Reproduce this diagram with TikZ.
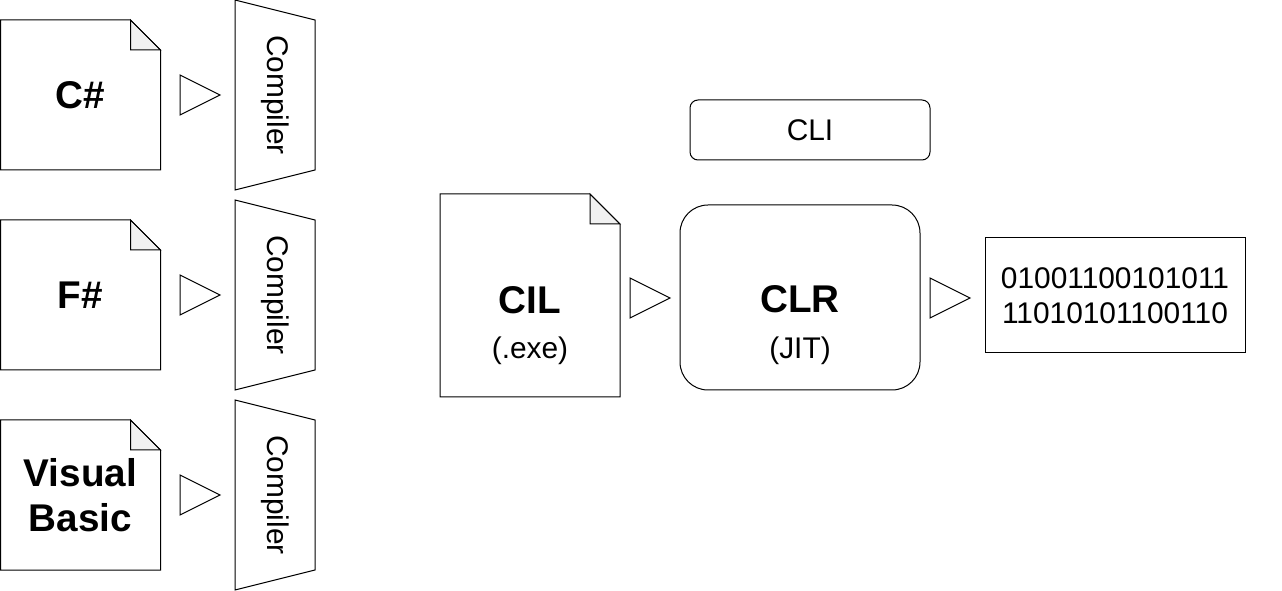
\documentclass[tikz,border=0pt]{standalone}
\usepackage{fontspec}
\setmainfont{Liberation Sans}
\definecolor{foldgray}{HTML}{F1F1F1}
\begin{document}
\begin{tikzpicture}[x=0.75pt,y=-0.75pt,line width=0.75pt,
  box/.style={draw=none,inner sep=0pt,outer sep=0pt,anchor=north west,align=center},
  docbox/.style={box,minimum width=120pt,minimum height=112.5pt},
  compbox/.style={box,minimum width=60pt,minimum height=142.5pt,font=\fontsize{22.4}{26.5}\selectfont},
  tribox/.style={box,minimum width=30pt,minimum height=30pt},
  bigb/.style={inner sep=0pt,font=\fontsize{29}{33.75}\selectfont\bfseries,align=center},
  reg/.style={inner sep=0pt,font=\fontsize{22.4}{26.25}\selectfont,align=center}]
\useasboundingbox (0,0) rectangle (1282,591);

% source documents
\node[docbox,bigb] (cs) at (0.5,20) {C\#};
\node[docbox,bigb] (fs) at (0.5,220) {F\#};
\node[docbox,bigb] (vb) at (0.5,420) {Visual\\Basic};
\node[box,minimum width=135pt,minimum height=152.25pt] (cil) at (440,194) {};

\foreach \n in {cs,fs,vb,cil}{
  \draw[fill=foldgray] ([xshift=-22.5pt]\n.north east) -- ([xshift=-22.5pt,yshift=-22.5pt]\n.north east) -- ([yshift=-22.5pt]\n.north east) -- cycle;
  \draw (\n.north west) -- ([xshift=-22.5pt]\n.north east) -- ([yshift=-22.5pt]\n.north east) -- (\n.south east) -- (\n.south west) -- cycle;
}

% triangles
\node[tribox] (t1) at (180,75) {};
\node[tribox] (t2) at (180,275) {};
\node[tribox] (t3) at (180,475) {};
\node[tribox] (t4) at (630,278) {};
\node[tribox] (t5) at (930,278) {};
\foreach \n in {t1,t2,t3,t4,t5}
  \draw (\n.north west) -- (\n.east) -- (\n.south west) -- cycle;

% compilers
\node[compbox] (c1) at (235,0) {\rotatebox{-90}{Compiler}};
\node[compbox] (c2) at (235,200) {\rotatebox{-90}{Compiler}};
\node[compbox] (c3) at (235,400) {\rotatebox{-90}{Compiler}};
\foreach \n in {c1,c2,c3}
  \draw (\n.north west) -- ([yshift=-15pt]\n.north east) -- ([yshift=15pt]\n.south east) -- (\n.south west) -- cycle;

% CIL text
\node[bigb,anchor=base] (cilname) at (530,314) {CIL};
\node[reg,anchor=base] (cilext) at (530,359) {(.exe)};

% CLI and CLR
\node[box,draw,rounded corners=6pt,minimum width=180pt,minimum height=45pt,font=\fontsize{22.4}{26.5}\selectfont] (cli) at (690,100) {CLI};
\node[box,draw,rounded corners=21pt,minimum width=180pt,minimum height=138.75pt] (clr) at (680,205) {};
\node[bigb,anchor=base] (clrname) at (800,313) {CLR};
\node[reg,anchor=base] (clrjit) at (800,359) {(JIT)};

% binary output
\node[box,draw,minimum width=195pt,minimum height=86.25pt,font=\fontsize{22.4}{26.25}\selectfont] (bin) at (985,238) {01001100101011\\11010101100110};
\end{tikzpicture}
\end{document}
